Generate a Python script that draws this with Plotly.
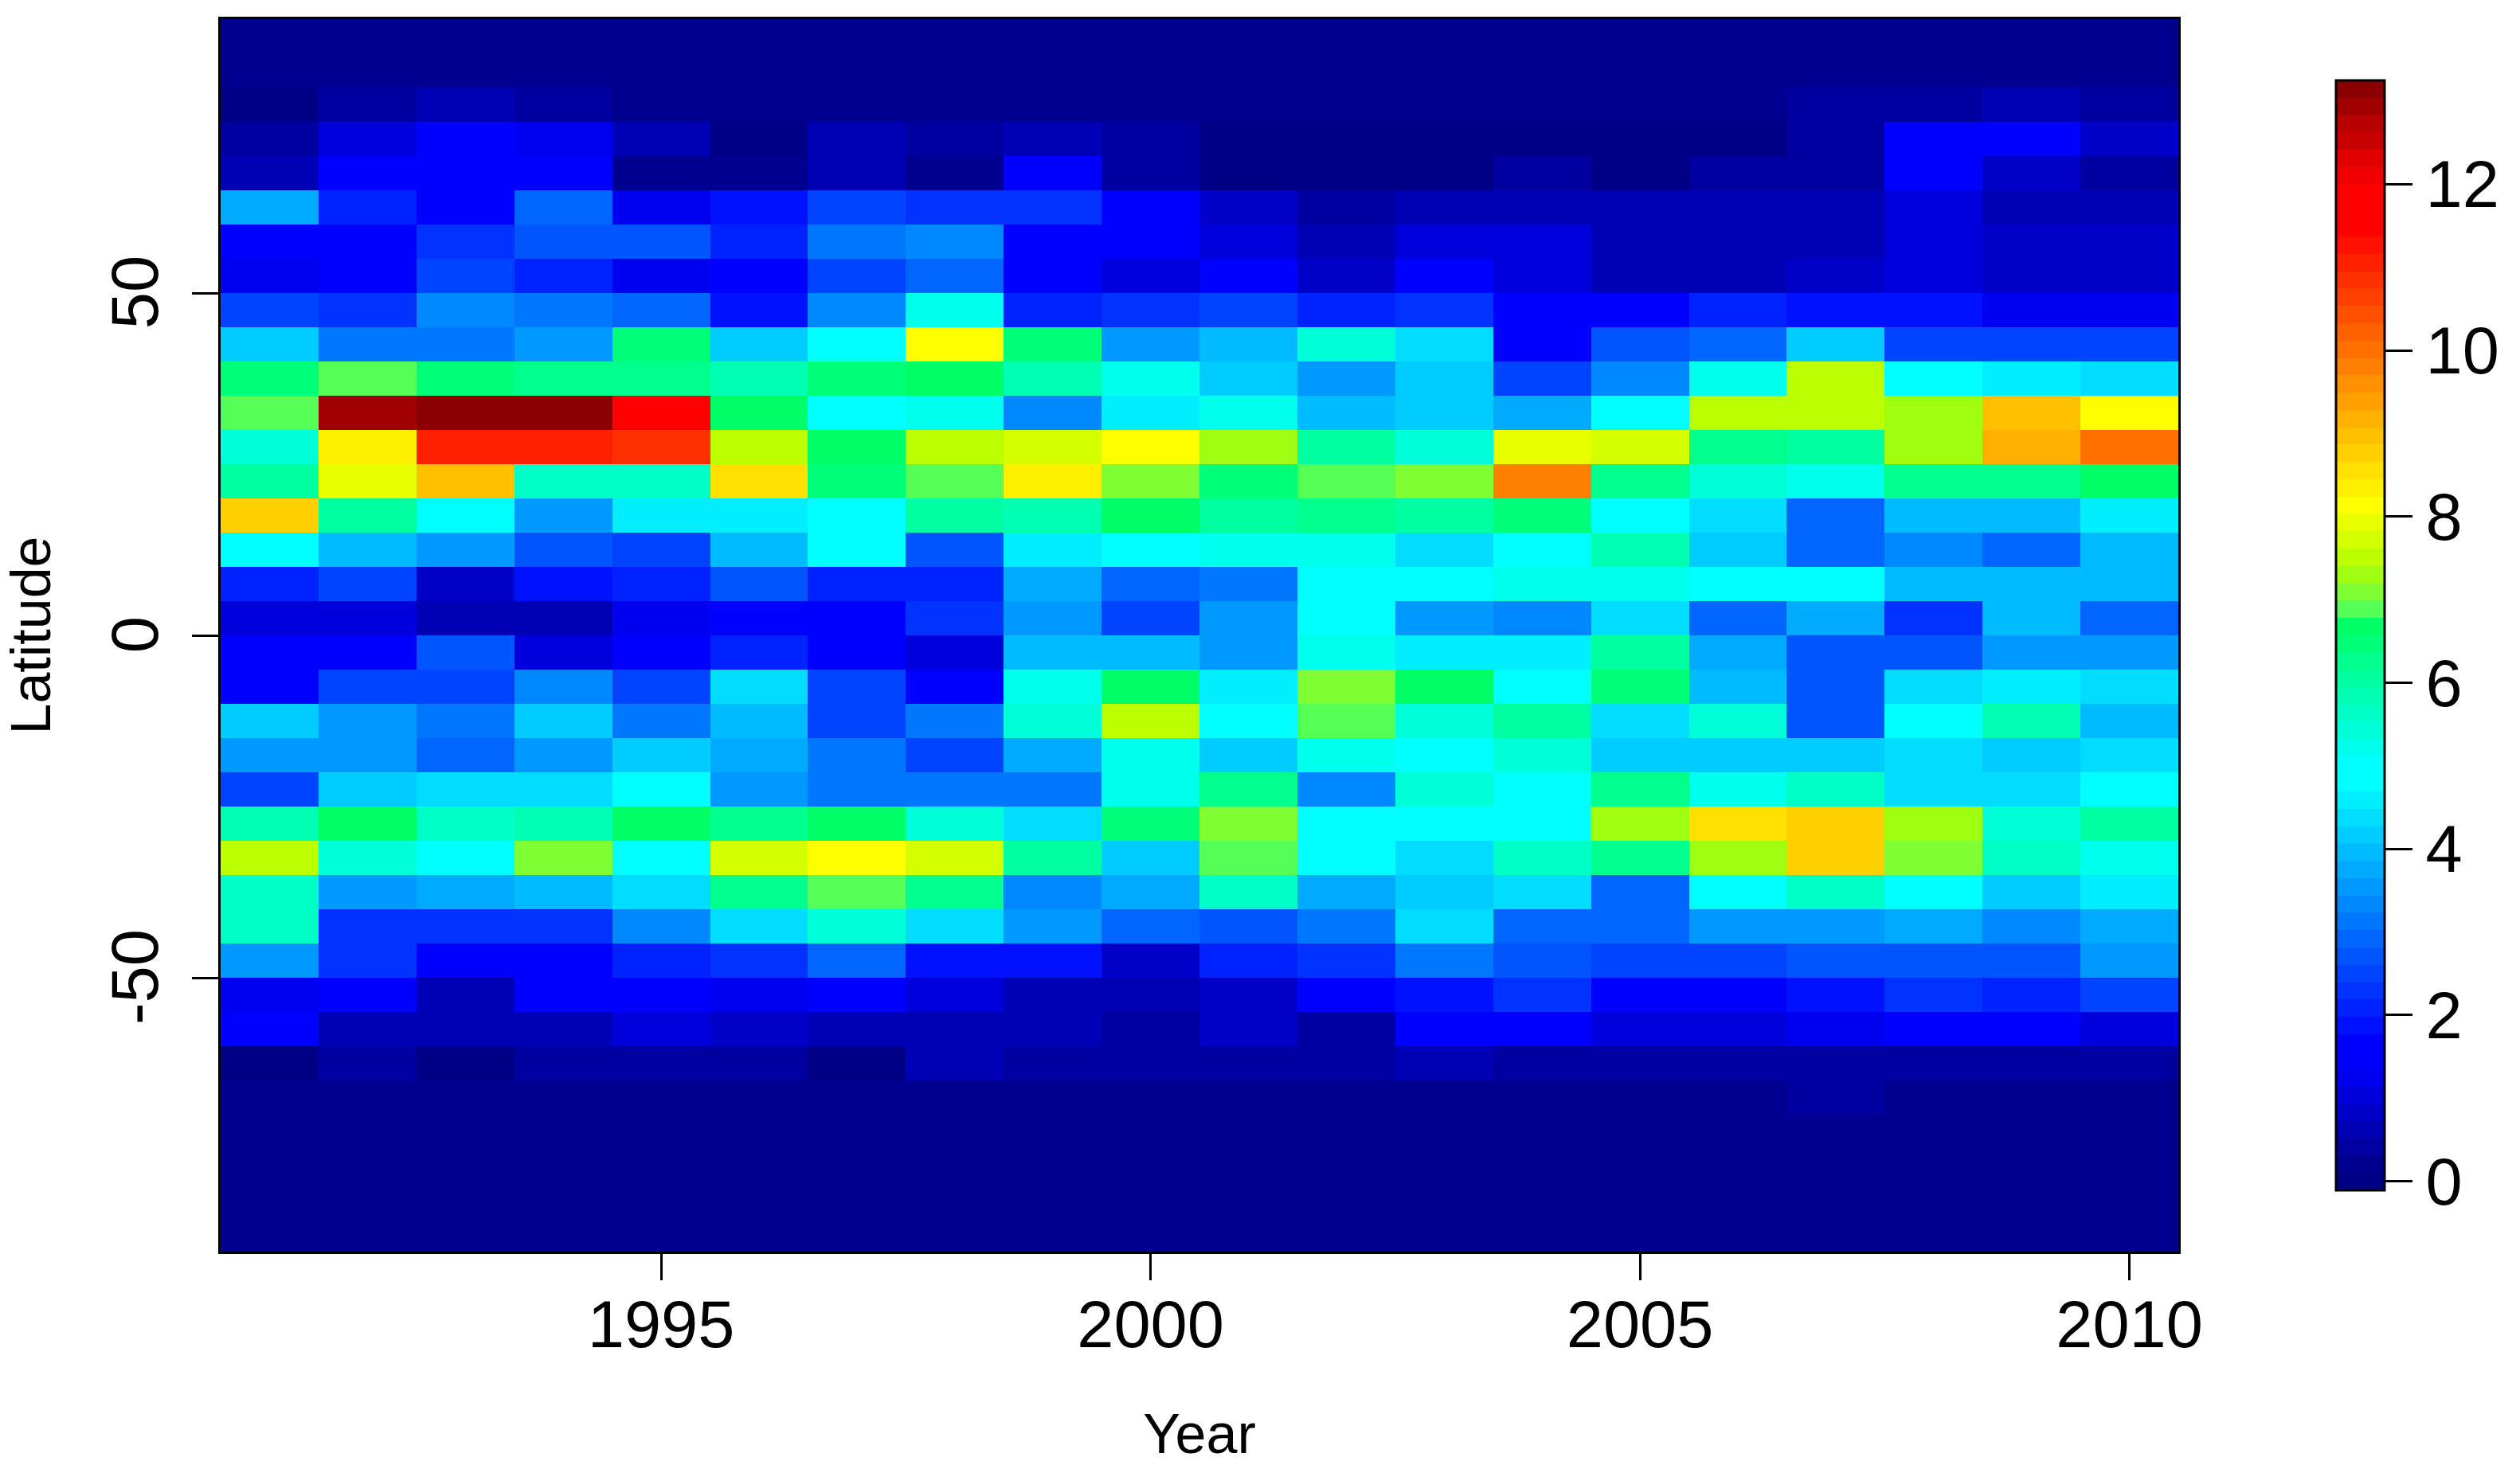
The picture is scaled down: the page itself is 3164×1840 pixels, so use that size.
import plotly.graph_objects as go

# Years along x, latitude band centres along y (south to north)
years = list(range(1991, 2011))
lat_centres = [-87.5 + 5 * i for i in range(36)]

# Values per latitude band, 1991..2010
lat_85_90 = [0.2] * 20
lat_80_85 = [0.2] * 20
lat_75_80 = [0.05, 0.41, 0.55, 0.41, 0.2, 0.2, 0.2, 0.2, 0.2, 0.2, 0.2, 0.2, 0.2, 0.2, 0.2, 0.2, 0.41, 0.41, 0.55, 0.41]
lat_70_75 = [0.41, 1.04, 1.55, 1.25, 0.55, 0.05, 0.55, 0.41, 0.55, 0.41, 0.05, 0.05, 0.05, 0.05, 0.05, 0.05, 0.41, 1.45, 1.66, 0.83]
lat_65_70 = [0.55, 1.45, 1.6, 1.45, 0.2, 0.2, 0.55, 0.2, 1.55, 0.41, 0.05, 0.05, 0.05, 0.41, 0.05, 0.41, 0.41, 1.45, 0.83, 0.41]
lat_60_65 = [3.75, 2.08, 1.55, 2.91, 1.35, 1.87, 2.6, 2.3, 2.3, 1.55, 0.83, 0.41, 0.62, 0.55, 0.55, 0.55, 0.55, 1.04, 0.55, 0.55]
lat_55_60 = [1.45, 1.45, 2.3, 2.8, 2.8, 2.08, 3.2, 3.4, 1.66, 1.55, 1.04, 0.62, 1.04, 1.04, 0.62, 0.55, 0.62, 1.04, 0.83, 0.83]
lat_50_55 = [1.25, 1.45, 2.5, 2.08, 1.25, 1.55, 2.5, 3.0, 1.55, 1.1, 1.55, 0.83, 1.45, 1.04, 0.62, 0.62, 0.83, 1.1, 0.83, 0.83]
lat_45_50 = [2.6, 2.3, 3.4, 3.2, 3.0, 1.87, 3.4, 5.3, 2.08, 2.3, 2.6, 2.08, 2.3, 1.55, 1.55, 2.0, 1.87, 1.87, 1.35, 1.35]
lat_40_45 = [4.17, 3.2, 3.2, 3.6, 6.55, 4.17, 4.9, 8.13, 6.55, 3.6, 3.96, 5.5, 4.4, 1.55, 2.8, 3.0, 4.17, 2.6, 2.6, 2.6]
lat_35_40 = [6.55, 6.88, 6.55, 6.2, 6.2, 5.8, 6.55, 6.7, 5.8, 5.3, 4.17, 3.6, 4.17, 2.4, 3.4, 5.3, 7.5, 4.9, 4.58, 4.4]
lat_30_35 = [6.88, 12.9, 13.15, 13.15, 11.6, 6.6, 5.1, 5.3, 3.3, 4.58, 5.3, 3.96, 4.17, 3.75, 4.9, 7.5, 7.5, 7.3, 8.97, 8.13]
lat_25_30 = [5.5, 8.34, 11.05, 11.05, 10.85, 7.5, 6.67, 7.5, 7.7, 8.13, 7.3, 6.05, 5.5, 7.9, 7.7, 6.3, 6.1, 7.3, 9.18, 10.0]
lat_20_25 = [6.05, 7.9, 8.97, 5.7, 5.7, 8.55, 6.55, 6.88, 8.34, 7.08, 6.55, 6.88, 7.08, 9.8, 6.2, 5.5, 5.3, 6.2, 6.35, 6.67]
lat_15_20 = [8.76, 6.05, 5.1, 3.5, 4.6, 4.6, 5.0, 6.05, 5.8, 6.67, 6.05, 6.35, 6.0, 6.55, 4.9, 4.38, 3.0, 3.96, 3.96, 4.58]
lat_10_15 = [4.9, 4.0, 3.45, 2.8, 2.5, 4.0, 4.9, 2.8, 4.6, 5.1, 5.3, 5.3, 4.38, 5.1, 5.9, 4.17, 3.0, 3.4, 3.0, 3.96]
lat_05_10 = [2.08, 2.6, 0.83, 1.87, 2.08, 2.8, 2.08, 2.08, 3.75, 3.0, 3.2, 5.1, 4.7, 5.3, 5.3, 4.9, 4.7, 3.96, 3.96, 3.96]
lat_00_05 = [1.1, 1.1, 0.62, 0.62, 1.35, 1.45, 1.55, 2.2, 3.6, 2.6, 3.6, 5.0, 3.6, 3.4, 4.38, 3.0, 3.75, 2.3, 3.96, 3.0]
lat_s00_05 = [1.5, 1.5, 2.8, 1.1, 1.45, 2.08, 1.55, 1.04, 4.0, 4.0, 3.6, 5.3, 4.6, 4.6, 6.05, 3.7, 2.8, 2.8, 3.6, 3.6]
lat_s05_10 = [1.55, 2.4, 2.5, 3.4, 2.5, 4.4, 2.6, 1.6, 5.3, 6.67, 4.6, 7.1, 6.67, 5.05, 6.55, 3.96, 2.8, 4.38, 4.6, 4.38]
lat_s10_15 = [4.17, 3.6, 3.2, 4.17, 3.2, 3.96, 2.6, 3.2, 5.5, 7.5, 4.95, 6.88, 5.5, 5.95, 4.38, 5.5, 2.8, 4.9, 5.8, 3.96]
lat_s15_20 = [3.6, 3.45, 3.0, 3.6, 4.17, 3.75, 3.2, 2.4, 3.75, 5.2, 4.17, 5.2, 4.7, 5.5, 4.2, 4.2, 4.2, 4.38, 4.2, 4.38]
lat_s20_25 = [2.5, 4.17, 4.4, 4.4, 4.9, 3.6, 3.2, 3.2, 3.2, 5.3, 6.3, 3.4, 5.5, 5.05, 6.3, 5.3, 5.6, 4.4, 4.4, 4.95]
lat_s25_30 = [5.8, 6.67, 5.7, 5.8, 6.67, 6.35, 6.67, 5.4, 4.4, 6.55, 7.08, 4.7, 5.05, 5.05, 7.3, 8.55, 8.76, 7.3, 5.5, 5.95]
lat_s30_35 = [7.5, 5.5, 4.7, 7.08, 4.9, 7.7, 8.13, 7.7, 5.95, 4.17, 6.88, 5.05, 4.4, 5.6, 6.3, 7.3, 8.76, 7.08, 5.6, 5.2]
lat_s35_40 = [5.6, 3.6, 3.75, 4.0, 4.4, 6.2, 6.88, 6.2, 3.4, 3.75, 5.6, 3.75, 4.17, 4.38, 3.0, 5.05, 5.6, 4.9, 4.17, 4.6]
lat_s40_45 = [5.7, 2.3, 2.2, 2.2, 3.4, 4.38, 5.5, 4.38, 3.6, 3.0, 2.7, 3.2, 4.38, 2.95, 2.95, 3.6, 3.45, 3.75, 3.4, 3.65]
lat_s45_50 = [3.6, 2.2, 1.5, 1.6, 2.08, 2.3, 3.0, 1.87, 1.87, 0.83, 2.08, 2.3, 3.2, 2.8, 2.6, 2.6, 2.8, 2.8, 2.8, 3.6]
lat_s50_55 = [1.35, 1.7, 0.72, 1.45, 1.45, 1.35, 1.45, 1.04, 0.55, 0.55, 0.83, 1.45, 1.87, 2.3, 1.55, 1.45, 1.87, 2.3, 2.08, 2.6]
lat_s55_60 = [1.45, 0.62, 0.55, 0.55, 1.04, 0.83, 0.55, 0.62, 0.55, 0.41, 0.83, 0.41, 1.45, 1.45, 1.1, 1.1, 1.25, 1.45, 1.55, 1.04]
lat_s60_65 = [0.05, 0.41, 0.05, 0.41, 0.41, 0.41, 0.05, 0.55, 0.41, 0.41, 0.41, 0.41, 0.55, 0.41, 0.41, 0.41, 0.41, 0.41, 0.41, 0.41]
lat_s65_70 = [0.2, 0.2, 0.2, 0.2, 0.2, 0.2, 0.2, 0.2, 0.2, 0.2, 0.2, 0.2, 0.2, 0.2, 0.2, 0.2, 0.41, 0.2, 0.2, 0.2]
lat_s70_75 = [0.2] * 20
lat_s75_80 = [0.2] * 20
lat_s80_85 = [0.2] * 20
lat_s85_90 = [0.2] * 20

# South to north, the order of lat_centres
values = [
    lat_s85_90, lat_s80_85, lat_s75_80, lat_s70_75, lat_s65_70, lat_s60_65,
    lat_s55_60, lat_s50_55, lat_s45_50, lat_s40_45, lat_s35_40, lat_s30_35,
    lat_s25_30, lat_s20_25, lat_s15_20, lat_s10_15, lat_s05_10, lat_s00_05,
    lat_00_05, lat_05_10, lat_10_15, lat_15_20, lat_20_25, lat_25_30,
    lat_30_35, lat_35_40, lat_40_45, lat_45_50, lat_50_55, lat_55_60,
    lat_60_65, lat_65_70, lat_70_75, lat_75_80, lat_80_85, lat_85_90,
]

# The 64 colour bands of the legend, bottom to top
band_colours = [
    "#000087", "#000090", "#0000a0", "#0000b4", "#0000c8", "#0000dc", "#0000f0", "#0000ff",
    "#0000ff", "#0011ff", "#0022ff", "#0033ff", "#0044ff", "#0055ff", "#0066ff", "#0077ff",
    "#0088ff", "#0099ff", "#00aaff", "#00bbff", "#00ccff", "#00ddff", "#00eeff", "#00ffff",
    "#00ffff", "#00ffec", "#00ffd9", "#00ffc6", "#00ffb3", "#00ffa0", "#00ff8c", "#00ff79",
    "#00ff66", "#55ff55", "#7fff33", "#a0ff11", "#bbff00", "#d4ff00", "#e8ff00", "#ffff00",
    "#fff000", "#ffe000", "#ffd000", "#ffc000", "#ffb000", "#ffa000", "#ff9000", "#ff8000",
    "#ff7000", "#ff6000", "#ff5000", "#ff4000", "#ff3000", "#ff2000", "#ff1000", "#ff0000",
    "#ff0000", "#ff0000", "#f00000", "#e00000", "#c80000", "#b80000", "#a00000", "#8b0000",
]

colourscale = []
for i, c in enumerate(band_colours):
    colourscale.append([i / 64, c])
    colourscale.append([(i + 1) / 64, c])

label_font = dict(family="Liberation Sans", size=83, color="black")
title_font = dict(family="Liberation Sans", size=70, color="black")

plot_left, plot_right, plot_top, plot_bottom = 277, 2735, 24, 1572
plot_w = plot_right - plot_left
plot_h = plot_bottom - plot_top

fig = go.Figure(go.Heatmap(
    x=years,
    y=lat_centres,
    z=values,
    zmin=-0.11,
    zmax=13.25,
    colorscale=colourscale,
    zsmooth=False,
    colorbar=dict(
        thicknessmode="pixels", thickness=61,
        lenmode="pixels", len=1394,
        x=(2933 - plot_left) / plot_w, xanchor="left", xpad=0,
        y=(plot_bottom - 1495) / plot_h, yanchor="bottom", ypad=0,
        outlinewidth=3, outlinecolor="black", borderwidth=0,
        tickmode="array", tickvals=[0, 2, 4, 6, 8, 10, 12],
        ticktext=["0", "2", "4", "6", "8", "10", "12"],
        ticks="outside", ticklen=34, tickwidth=3, tickcolor="black",
        tickfont=label_font,
    ),
))

fig.update_layout(
    width=3164,
    height=1840,
    margin=dict(l=plot_left, r=3164 - plot_right, t=plot_top, b=1840 - plot_bottom),
    paper_bgcolor="white",
    plot_bgcolor="white",
    template="none",
)

fig.update_xaxes(
    range=[1990.5, 2010.5],
    tickmode="array", tickvals=[1995, 2000, 2005, 2010],
    ticks="outside", ticklen=33, tickwidth=3, tickcolor="black",
    tickfont=label_font, ticklabelstandoff=-16,
    showline=True, mirror=True, linewidth=3, linecolor="black",
    showgrid=False, zeroline=False,
    title=dict(text="Year", font=title_font, standoff=68),
)
# a trailing nbsp pushes the rotated labels back onto their ticks
fig.update_yaxes(
    range=[-90, 90],
    tickmode="array", tickvals=[-50, 0, 50],
    ticktext=["-50\u00a0", "0\u00a0", "50\u00a0"],
    ticks="outside", ticklen=33, tickwidth=3, tickcolor="black",
    tickfont=label_font, tickangle=-90, ticklabelstandoff=10,
    showline=True, mirror=True, linewidth=3, linecolor="black",
    showgrid=False, zeroline=False,
    title=dict(text="Latitude", font=title_font, standoff=55),
)

fig.write_html(
    "out.html",
    config={"displayModeBar": False},
    post_script="document.body.style.margin='0';",
)
